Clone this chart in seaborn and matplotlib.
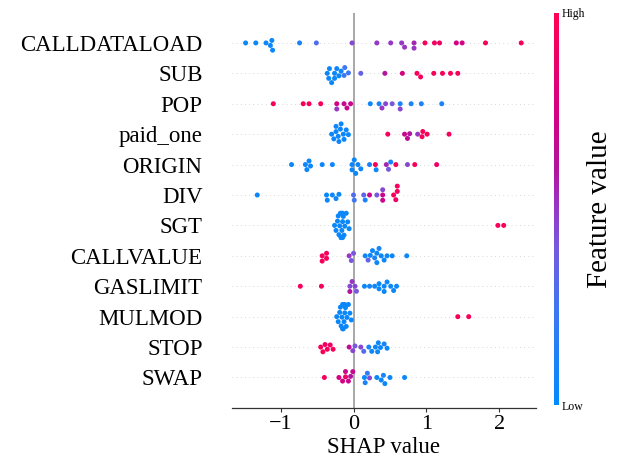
import numpy as np
import pandas as pd
import matplotlib
matplotlib.use("Agg")
import matplotlib.pyplot as plt
import seaborn as sns
from matplotlib.colors import LinearSegmentedColormap, Normalize
from matplotlib.cm import ScalarMappable

features = ["CALLDATALOAD", "SUB", "POP", "paid_one", "ORIGIN", "DIV", "SGT",
            "CALLVALUE", "GASLIMIT", "MULMOD", "STOP", "SWAP"]

CALLDATALOAD_shap = [-1.48, -1.34, -1.20, -1.14, -1.12, -1.11, -0.74, -0.51, -0.02, 0.32, 0.51,
                     0.66, 0.70, 0.83, 0.83, 0.98, 1.11, 1.18, 1.41, 1.49, 1.81, 2.30]
CALLDATALOAD_feat = [0.05, 0.05, 0.05, 0.05, 0.05, 0.05, 0.10, 0.30, 0.45, 0.50, 0.50,
                     0.50, 0.50, 0.55, 0.50, 0.95, 0.92, 0.92, 0.75, 0.75, 0.95, 0.95]

SUB_shap = [-0.36, -0.34, -0.33, -0.30, -0.26, -0.26, -0.23, -0.20, -0.17, -0.13, -0.12, -0.07,
            0.10, 0.43, 0.67, 0.87, 0.92, 1.10, 1.22, 1.33, 1.43]
SUB_feat = [0.05, 0.05, 0.05, 0.05, 0.05, 0.05, 0.05, 0.05, 0.05, 0.25, 0.25, 0.25,
            0.35, 0.60, 0.75, 0.95, 0.95, 0.95, 0.95, 0.95, 0.95]

POP_shap = [-1.10, -0.69, -0.61, -0.45, -0.23, -0.23, -0.13, -0.09, -0.04, 0.23, 0.35, 0.39,
            0.44, 0.53, 0.64, 0.64, 0.79, 0.93, 1.21]
POP_feat = [0.95, 0.95, 0.95, 0.95, 0.75, 0.50, 0.70, 0.70, 0.70, 0.05, 0.10, 0.50,
            0.45, 0.40, 0.10, 0.45, 0.10, 0.10, 0.10]

paid_one_shap = [-0.30, -0.27, -0.24, -0.24, -0.21, -0.20, -0.18, -0.17, -0.14, -0.13, -0.10, -0.07,
                 0.47, 0.70, 0.74, 0.77, 0.88, 0.94, 0.95, 1.01, 1.31]
paid_one_feat = [0.05, 0.05, 0.05, 0.05, 0.05, 0.05, 0.05, 0.05, 0.05, 0.05, 0.05, 0.05,
                 0.95, 0.70, 0.65, 0.60, 0.50, 0.95, 0.95, 0.95, 0.95]

ORIGIN_shap = [-0.85, -0.66, -0.64, -0.61, -0.59, -0.43, -0.29, -0.02, -0.02, 0.01, 0.03, 0.06,
               0.10, 0.22, 0.30, 0.31, 0.45, 0.48, 0.51, 0.58, 0.74, 0.84, 1.14]
ORIGIN_feat = [0.05, 0.05, 0.05, 0.05, 0.05, 0.05, 0.05, 0.05, 0.05, 0.05, 0.05, 0.05,
               0.05, 0.10, 0.95, 0.05, 0.55, 0.40, 0.10, 0.95, 0.45, 0.95, 0.90]

DIV_shap = [-1.32, -0.37, -0.36, -0.29, -0.24, -0.20, 0.00, 0.01, 0.14, 0.16, 0.22, 0.32,
            0.40, 0.40, 0.40, 0.55, 0.58, 0.60, 0.60]
DIV_feat = [0.05, 0.05, 0.05, 0.05, 0.05, 0.05, 0.30, 0.25, 0.35, 0.10, 0.70, 0.40,
            0.70, 0.70, 0.45, 0.95, 0.90, 0.95, 0.95]

SGT_shap = [-0.26, -0.24, -0.22, -0.21, -0.20, -0.19, -0.18, -0.17, -0.17, -0.16, -0.16, -0.15,
            -0.15, -0.15, -0.14, -0.13, -0.12, -0.10, -0.08, -0.06, 1.98, 2.06]
SGT_feat = [0.05] * 20 + [0.95, 0.95]

CALLVALUE_shap = [-0.43, -0.43, -0.37, -0.37, -0.06, -0.03, 0.00, 0.16, 0.20, 0.23, 0.26, 0.29,
                  0.32, 0.32, 0.35, 0.38, 0.42, 0.46, 0.53, 0.73]
CALLVALUE_feat = [0.95, 0.95, 0.95, 0.95, 0.50, 0.40, 0.40, 0.05, 0.35, 0.05, 0.05, 0.10,
                  0.05, 0.05, 0.10, 0.05, 0.05, 0.05, 0.05, 0.05]

GASLIMIT_shap = [-0.73, -0.44, -0.05, -0.05, -0.02, 0.02, 0.04, 0.15, 0.22, 0.29, 0.35, 0.35,
                 0.42, 0.42, 0.46, 0.51, 0.55, 0.59]
GASLIMIT_feat = [0.95, 0.95, 0.45, 0.60, 0.50, 0.45, 0.40, 0.05, 0.10, 0.05, 0.05, 0.05,
                 0.05, 0.05, 0.05, 0.05, 0.05, 0.05]

MULMOD_shap = [-0.23, -0.21, -0.19, -0.18, -0.17, -0.16, -0.15, -0.15, -0.14, -0.14, -0.13, -0.12,
               -0.12, -0.11, -0.10, -0.09, -0.07, -0.05, -0.03, 1.43, 1.58]
MULMOD_feat = [0.05] * 19 + [0.95, 0.95]

STOP_shap = [-0.45, -0.42, -0.39, -0.36, -0.32, -0.28, -0.06, -0.01, 0.02, 0.10, 0.14, 0.21,
             0.25, 0.30, 0.33, 0.34, 0.37, 0.42, 0.46]
STOP_feat = [0.95, 0.95, 0.92, 0.95, 0.90, 0.95, 0.65, 0.45, 0.40, 0.45, 0.30, 0.10,
             0.05, 0.05, 0.05, 0.05, 0.05, 0.10, 0.05]

SWAP_shap = [-0.40, -0.20, -0.15, -0.11, -0.11, -0.07, -0.04, -0.01, 0.15, 0.16, 0.19, 0.22,
             0.32, 0.38, 0.41, 0.43, 0.50, 0.70]
SWAP_feat = [0.95, 0.75, 0.75, 0.90, 0.70, 0.70, 0.60, 0.70, 0.05, 0.10, 0.20, 0.45,
             0.05, 0.05, 0.10, 0.05, 0.05, 0.05]

shap_lists = [CALLDATALOAD_shap, SUB_shap, POP_shap, paid_one_shap, ORIGIN_shap, DIV_shap,
              SGT_shap, CALLVALUE_shap, GASLIMIT_shap, MULMOD_shap, STOP_shap, SWAP_shap]
feat_lists = [CALLDATALOAD_feat, SUB_feat, POP_feat, paid_one_feat, ORIGIN_feat, DIV_feat,
              SGT_feat, CALLVALUE_feat, GASLIMIT_feat, MULMOD_feat, STOP_feat, SWAP_feat]

rows = []
for name, s_list, f_list in zip(features, shap_lists, feat_lists):
    for s, f in zip(s_list, f_list):
        rows.append({"feature": name, "shap": s, "fval": f})
df = pd.DataFrame(rows)

sns.set_theme(style="white")
plt.rcParams["font.family"] = ["Liberation Serif", "DejaVu Serif"]
plt.rcParams["axes.unicode_minus"] = True
for key in ["text.color", "axes.labelcolor", "xtick.color", "ytick.color"]:
    plt.rcParams[key] = "black"

cmap = LinearSegmentedColormap.from_list(
    "shap_red_blue",
    [(0.0, "#008bfb"), (0.25, "#3f76f2"), (0.4, "#7659dd"), (0.5, "#9638c4"),
     (0.6, "#b1149f"), (0.75, "#d50083"), (1.0, "#ff0052")])

fig = plt.figure(figsize=(6.18, 4.63), dpi=100)
ax = fig.add_axes([0.375, 0.119, 0.492, 0.854])

for i in range(len(features)):
    ax.axhline(i, color="#cccccc", lw=0.6, dashes=(1, 4), zorder=-1)
ax.axvline(0, color="#999999", lw=1.2, zorder=-1)

sns.swarmplot(data=df, x="shap", y="feature", hue="fval", order=features,
              palette=cmap, hue_norm=(0, 1), size=3.6, linewidth=0,
              legend=False, ax=ax, orient="h", zorder=3, warn_thresh=1.0)

ax.set_ylim(len(features), -1)
ax.set_xlim(-1.67, 2.5)
ax.set_xticks([-1, 0, 1, 2])
ax.set_ylabel("")
ax.set_xlabel("SHAP value", fontsize=16.5, labelpad=2)
ax.tick_params(axis="x", labelsize=16, length=3, width=0.8, pad=2, bottom=True, color="#333333")
ax.tick_params(axis="y", labelsize=16.5, length=0, pad=21)
for side in ["top", "right", "left"]:
    ax.spines[side].set_visible(False)
ax.spines["bottom"].set_color("#333333")
ax.spines["bottom"].set_linewidth(0.9)

cax = fig.add_axes([0.897, 0.125, 0.008, 0.847])
sm = ScalarMappable(norm=Normalize(0, 1), cmap=cmap)
cb = fig.colorbar(sm, cax=cax, ticks=[0, 1])
cb.set_ticklabels(["Low", "High"])
cb.ax.tick_params(labelsize=8.5, length=0, pad=2)
cb.outline.set_visible(False)
cb.set_label("Feature value", fontsize=21, labelpad=1)

fig.savefig("out.png", dpi=100)
